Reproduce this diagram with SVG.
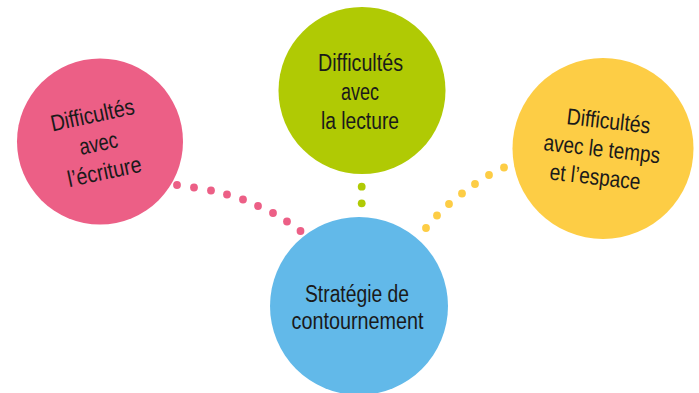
<svg xmlns="http://www.w3.org/2000/svg" width="699" height="393" viewBox="0 0 699 393">
<style>
.lbl{font-family:"Liberation Sans Narrow","Liberation Sans",Roboto,sans-serif;font-size:23px;fill:#1a1a1a;text-anchor:middle}
.pk{fill:#EC5F86}.gr{fill:#B0CA04}.ye{fill:#FDCD45}.bl{fill:#62B9E9}
</style>
<rect width="699" height="393" fill="#ffffff"/>
<g id="connectors">
<g class="pk">
<circle cx="177" cy="185" r="3.9"/><circle cx="194" cy="187.5" r="3.9"/><circle cx="211" cy="190.5" r="3.9"/><circle cx="227" cy="194.5" r="3.9"/><circle cx="243" cy="199.5" r="3.9"/><circle cx="258" cy="206" r="3.9"/><circle cx="273" cy="213" r="3.9"/><circle cx="287" cy="221.5" r="3.9"/><circle cx="300.5" cy="231" r="3.9"/>
</g>
<g class="gr">
<circle cx="361.7" cy="186.7" r="3.9"/><circle cx="361.7" cy="203.3" r="3.9"/>
</g>
<g class="ye">
<circle cx="426" cy="228" r="3.9"/><circle cx="437" cy="215.5" r="3.9"/><circle cx="449" cy="204" r="3.9"/><circle cx="462" cy="193.5" r="3.9"/><circle cx="475" cy="184" r="3.9"/><circle cx="489" cy="175" r="3.9"/><circle cx="504" cy="167.5" r="3.9"/>
</g>
</g>
<g id="node-ecriture">
<circle class="pk" cx="100" cy="141.5" r="83"/>
<g transform="translate(100,151) rotate(-12)">
<text class="lbl" x="0" y="-29" textLength="85" lengthAdjust="spacingAndGlyphs">Difficultés</text>
<text class="lbl" x="0" y="0" textLength="39" lengthAdjust="spacingAndGlyphs">avec</text>
<text class="lbl" x="0" y="29" textLength="75" lengthAdjust="spacingAndGlyphs">l’écriture</text>
</g>
</g>
<g id="node-lecture">
<circle class="gr" cx="362" cy="90.5" r="83.5"/>
<text class="lbl" x="360.5" y="70.7" textLength="85" lengthAdjust="spacingAndGlyphs">Difficultés</text>
<text class="lbl" x="360" y="100" textLength="38" lengthAdjust="spacingAndGlyphs">avec</text>
<text class="lbl" x="360" y="129" textLength="78" lengthAdjust="spacingAndGlyphs">la lecture</text>
</g>
<g id="node-temps">
<circle class="ye" cx="603" cy="148.5" r="90.5"/>
<g transform="translate(601,156.7) rotate(6.5)">
<text class="lbl" x="3.5" y="-28.5" textLength="84" lengthAdjust="spacingAndGlyphs">Difficultés</text>
<text class="lbl" x="0" y="0" textLength="117" lengthAdjust="spacingAndGlyphs">avec le temps</text>
<text class="lbl" x="-3.5" y="28.5" textLength="91" lengthAdjust="spacingAndGlyphs">et l’espace</text>
</g>
</g>
<g id="node-strategie">
<circle class="bl" cx="359" cy="306" r="89"/>
<text class="lbl" x="357" y="301.7" textLength="104" lengthAdjust="spacingAndGlyphs">Stratégie de</text>
<text class="lbl" x="357.5" y="329.3" textLength="132" lengthAdjust="spacingAndGlyphs">contournement</text>
</g>
</svg>
